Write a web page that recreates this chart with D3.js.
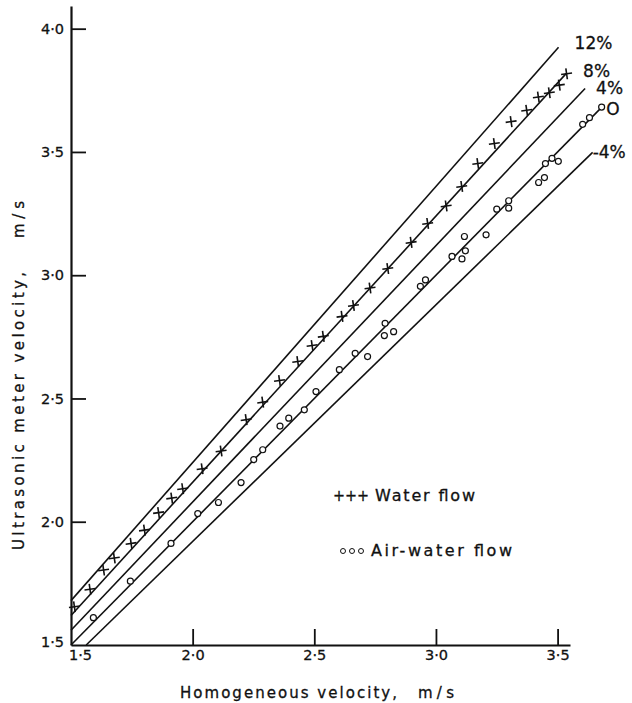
<!DOCTYPE html>
<html>
<head>
<meta charset="utf-8">
<script src="https://cdn.jsdelivr.net/npm/d3@7"></script>
<style>
  body { margin: 0; background: #fff; }
  text { font-family: "DejaVu Sans", sans-serif; fill: #111; stroke: #111; stroke-width: 0.3px; }
</style>
</head>
<body>
<svg id="chart"></svg>
<script>
// water flow (+) : homogeneous velocity vs ultrasonic meter velocity
const waterX = [1.514, 1.578, 1.634, 1.678, 1.747, 1.802, 1.860, 1.914, 1.959, 2.039, 2.117, 2.220, 2.288,
  2.357, 2.432, 2.491, 2.537, 2.614, 2.661, 2.729, 2.802, 2.898, 2.966, 3.042, 3.106, 3.172, 3.240, 3.309,
  3.373, 3.421, 3.466, 3.507, 3.537];
const waterY = [1.655, 1.726, 1.804, 1.853, 1.912, 1.966, 2.037, 2.096, 2.134, 2.215, 2.287, 2.414, 2.485,
  2.573, 2.650, 2.715, 2.752, 2.833, 2.877, 2.948, 3.027, 3.133, 3.210, 3.281, 3.360, 3.453, 3.534, 3.623,
  3.669, 3.723, 3.740, 3.771, 3.817];

// air-water flow (o)
const airX = [1.592, 1.744, 1.911, 2.021, 2.106, 2.199, 2.251, 2.288, 2.359, 2.395, 2.459, 2.507, 2.603,
  2.668, 2.719, 2.791, 2.788, 2.826, 2.936, 2.957, 3.066, 3.107, 3.121, 3.117, 3.206, 3.250, 3.299, 3.299,
  3.422, 3.446, 3.450, 3.477, 3.503, 3.603, 3.631, 3.681];
const airY = [1.611, 1.759, 1.912, 2.033, 2.078, 2.159, 2.252, 2.292, 2.388, 2.420, 2.454, 2.528, 2.617,
  2.683, 2.670, 2.805, 2.755, 2.771, 2.955, 2.981, 3.076, 3.066, 3.099, 3.157, 3.164, 3.268, 3.272, 3.302,
  3.376, 3.396, 3.453, 3.474, 3.462, 3.612, 3.639, 3.682];

// reference lines  y = x * (1 + p)
const linePct = [12, 8, 4, 0, -4];
const lineLabels = ["12%", "8%", "4%", "O", "-4%"];
const lineEndX = [3.504, 3.535, 3.613, 3.692, 3.644];

const xTicks = [1.5, 2.0, 2.5, 3.0, 3.5];
const yTicks = [1.5, 2.0, 2.5, 3.0, 3.5, 4.0];

const width = 632, height = 703;

const svg = d3.select("#chart")
  .attr("width", width)
  .attr("height", height);

const x = d3.scaleLinear().domain([1.5, 3.551]).range([71, 570]);
const y = d3.scaleLinear().domain([1.5, 4.092]).range([645, 6]);

const fmt = d => d3.format(".1f")(d).replace(".", "·");

// lines
const labelOffset = [[16, 2], [17, 3], [11, 6], [2, 10], [0, 6]];
linePct.forEach((p, i) => {
  const k = 1 + p / 100;
  const x0 = Math.max(1.5, 1.5 / k);
  svg.append("line")
    .attr("x1", x(x0)).attr("y1", y(x0 * k))
    .attr("x2", x(lineEndX[i])).attr("y2", y(lineEndX[i] * k))
    .attr("stroke", "#111")
    .attr("stroke-width", 1.6);
  svg.append("text")
    .attr("x", x(lineEndX[i]) + labelOffset[i][0])
    .attr("y", y(lineEndX[i] * k) + labelOffset[i][1])
    .attr("font-size", 17)
    .text(lineLabels[i]);
});

// axes
const xAxis = d3.axisBottom(x).tickValues(xTicks).tickFormat(fmt)
  .tickSizeInner(-16).tickSizeOuter(0).tickPadding(5);
const yAxis = d3.axisLeft(y).tickValues(yTicks).tickFormat(fmt)
  .tickSizeInner(-15).tickSizeOuter(0).tickPadding(7);

const gx = svg.append("g").attr("transform", `translate(0,${y(1.5)})`).call(xAxis);
const gy = svg.append("g").attr("transform", `translate(${x(1.5)},0)`).call(yAxis);

[gx, gy].forEach(g => {
  g.select(".domain").attr("stroke", "#111").attr("stroke-width", 2.2);
  g.selectAll(".tick line").attr("stroke", "#111").attr("stroke-width", 1.8);
  g.selectAll(".tick text").attr("font-size", 14.5).attr("fill", "#111")
    .attr("font-family", "DejaVu Sans, sans-serif");
  g.selectAll(".tick").filter(d => d === 1.5).select("line").remove();
});
gx.selectAll(".tick").filter(d => d === 1.5).select("text").attr("x", 9);
gy.selectAll(".tick").filter(d => d === 1.5).select("text").attr("y", -3);

// water points (+)
const water = waterX.map((v, i) => ({ x: v, y: waterY[i] }));
const plus = svg.append("g").selectAll("g").data(water).join("g")
  .attr("transform", d => `translate(${x(d.x)},${y(d.y)}) rotate(-8)`);
plus.append("line").attr("x1", -5.5).attr("x2", 5.5).attr("y1", 0).attr("y2", 0);
plus.append("line").attr("x1", 0).attr("x2", 0).attr("y1", -5.5).attr("y2", 5.5);
plus.selectAll("line").attr("stroke", "#111").attr("stroke-width", 1.6);

// air-water points (o)
const air = airX.map((v, i) => ({ x: v, y: airY[i] }));
svg.append("g").selectAll("circle").data(air).join("circle")
  .attr("cx", d => x(d.x))
  .attr("cy", d => y(d.y))
  .attr("r", 3)
  .attr("fill", "#fff")
  .attr("stroke", "#111")
  .attr("stroke-width", 1.2);

// legend
svg.append("text").attr("x", 333).attr("y", 501).attr("font-size", 16)
  .attr("textLength", 36).attr("lengthAdjust", "spacingAndGlyphs").text("+++");
svg.append("text").attr("x", 375).attr("y", 501).attr("font-size", 16)
  .attr("textLength", 100).text("Water flow");
[343, 352, 361].forEach(cx => {
  svg.append("circle").attr("cx", cx).attr("cy", 551).attr("r", 2.5)
    .attr("fill", "none").attr("stroke", "#111").attr("stroke-width", 1);
});
svg.append("text").attr("x", 371).attr("y", 556).attr("font-size", 16)
  .attr("textLength", 141).text("Air-water flow");

// axis titles
svg.append("text").attr("x", 180).attr("y", 698).attr("font-size", 15)
  .attr("textLength", 217).text("Homogeneous velocity,");
svg.append("text").attr("x", 418).attr("y", 698).attr("font-size", 15)
  .attr("textLength", 36).text("m/s");

svg.append("text").attr("transform", "translate(24,550) rotate(-90)").attr("font-size", 15)
  .attr("textLength", 278).text("Ultrasonic meter velocity,");
svg.append("text").attr("transform", "translate(24,238) rotate(-90)").attr("font-size", 15)
  .attr("textLength", 37).text("m/s");
</script>
</body>
</html>
